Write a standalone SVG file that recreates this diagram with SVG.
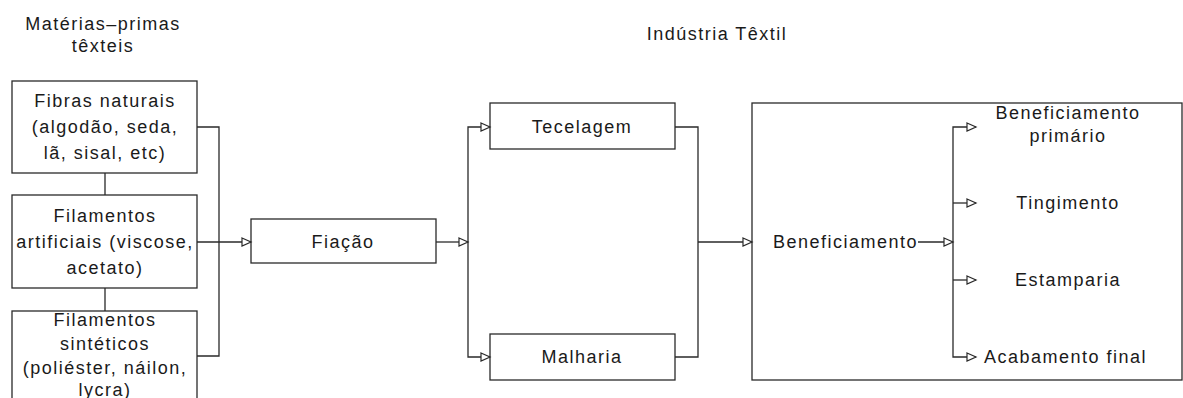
<svg xmlns="http://www.w3.org/2000/svg" width="1183" height="398" viewBox="0 0 1183 398">
<style>
text{font-family:"Liberation Sans",Arial,sans-serif;font-size:18px;fill:#1a1a1a;letter-spacing:1.5px}
.c{text-anchor:middle}
.box{fill:none;stroke:#2a2a2a;stroke-width:1.3}
.ln{fill:none;stroke:#2a2a2a;stroke-width:1.3}
</style>
<defs>
<marker id="ah" markerUnits="userSpaceOnUse" markerWidth="12" markerHeight="12" refX="10" refY="5" orient="auto">
<path d="M1,1 L10,5 L1,9 Z" fill="#fff" stroke="#2a2a2a" stroke-width="1.2"/>
</marker>
</defs>
<rect width="1183" height="398" fill="#fff"/>
<g id="titles">
<text class="c" x="103" y="30">Matérias–primas</text>
<text class="c" x="103" y="52">têxteis</text>
<text class="c" x="717" y="40">Indústria Têxtil</text>
</g>
<g id="connectors">
<path class="ln" d="M105,173 V195 M105,288 V311"/>
<path class="ln" d="M197,127 H219 V356 H197"/>
<path class="ln" d="M197,242 H251" marker-end="url(#ah)"/>
<path class="ln" d="M436,242 H468" marker-end="url(#ah)"/>
<path class="ln" d="M468,242 V127 H490" marker-end="url(#ah)"/>
<path class="ln" d="M468,242 V357 H490" marker-end="url(#ah)"/>
<path class="ln" d="M675,127 H698 V357 H675"/>
<path class="ln" d="M698,242 H752" marker-end="url(#ah)"/>
<path class="ln" d="M918,242 H953" marker-end="url(#ah)"/>
<path class="ln" d="M953,242 V127 H976" marker-end="url(#ah)"/>
<path class="ln" d="M953,203 H976" marker-end="url(#ah)"/>
<path class="ln" d="M953,280 H976" marker-end="url(#ah)"/>
<path class="ln" d="M953,242 V357 H976" marker-end="url(#ah)"/>
</g>
<g id="fibras-naturais">
<rect class="box" x="12" y="81" width="185" height="92"/>
<text class="c" x="105" y="107">Fibras naturais</text>
<text class="c" x="105" y="133">(algodão, seda,</text>
<text class="c" x="105" y="159">lã, sisal, etc)</text>
</g>
<g id="filamentos-artificiais">
<rect class="box" x="12" y="195" width="185" height="93"/>
<text class="c" x="105" y="222">Filamentos</text>
<text class="c" x="105" y="248">artificiais (viscose,</text>
<text class="c" x="105" y="274">acetato)</text>
</g>
<g id="filamentos-sinteticos">
<rect class="box" x="12" y="311" width="185" height="110"/>
<text class="c" x="105" y="326">Filamentos</text>
<text class="c" x="105" y="350">sintéticos</text>
<text class="c" x="105" y="374">(poliéster, náilon,</text>
<text class="c" x="105" y="396">lycra)</text>
</g>
<g id="fiacao">
<rect class="box" x="251" y="219" width="185" height="44"/>
<text class="c" x="343" y="248">Fiação</text>
</g>
<g id="tecelagem">
<rect class="box" x="490" y="103" width="185" height="46"/>
<text class="c" x="582" y="133">Tecelagem</text>
</g>
<g id="malharia">
<rect class="box" x="490" y="334" width="185" height="46"/>
<text class="c" x="582" y="363">Malharia</text>
</g>
<g id="beneficiamento">
<rect class="box" x="752" y="103" width="430" height="277"/>
<text x="773" y="248">Beneficiamento</text>
</g>
<g id="beneficiamento-primario">
<text class="c" x="1068" y="119">Beneficiamento</text>
<text class="c" x="1068" y="142">primário</text>
</g>
<g id="tingimento"><text class="c" x="1068" y="209">Tingimento</text></g>
<g id="estamparia"><text class="c" x="1068" y="286">Estamparia</text></g>
<g id="acabamento-final"><text x="984" y="363">Acabamento final</text></g>
</svg>
